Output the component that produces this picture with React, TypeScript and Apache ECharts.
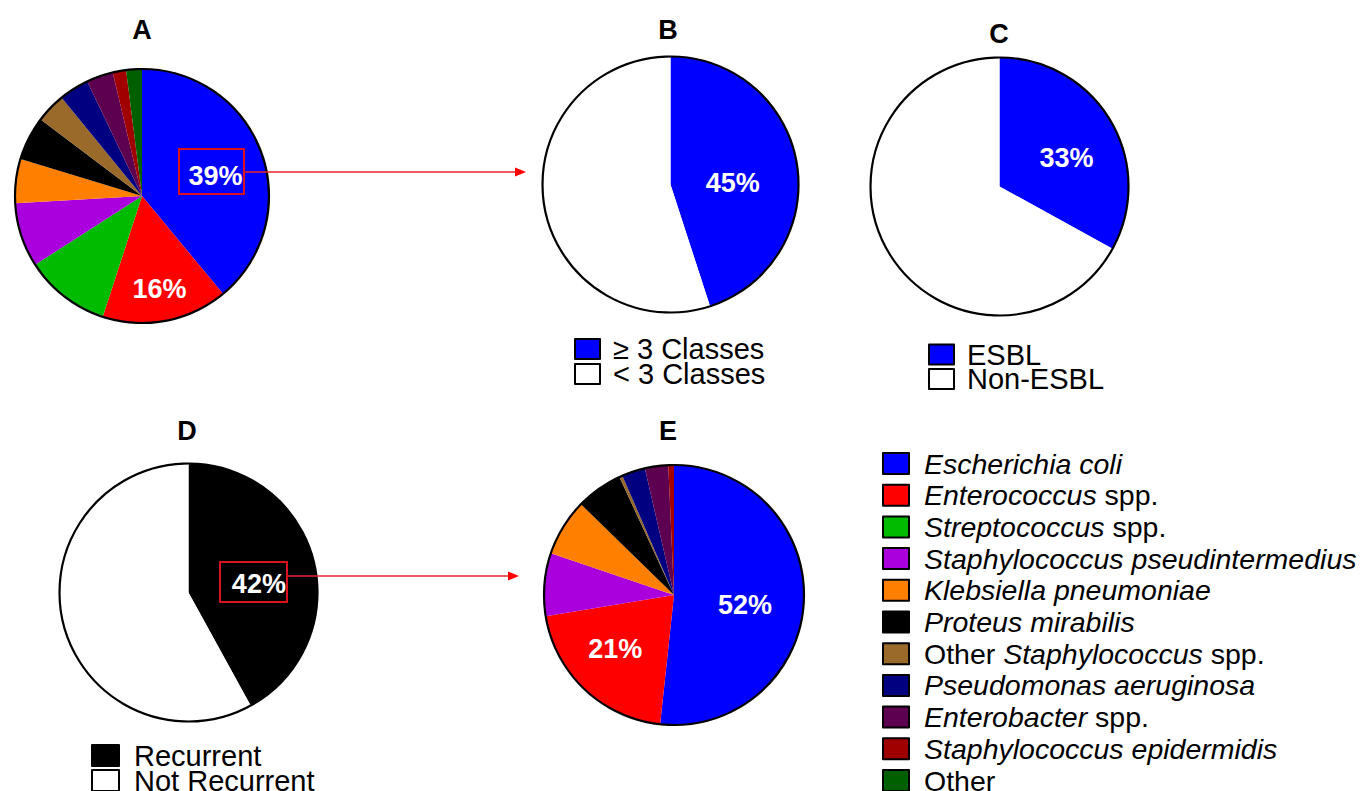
import React, { useEffect, useRef } from "react";
import * as echarts from "echarts";

// ---------- DATA ----------
const speciesNames = [
  "Escherichia coli",
  "Enterococcus spp.",
  "Streptococcus spp.",
  "Staphylococcus pseudintermedius",
  "Klebsiella pneumoniae",
  "Proteus mirabilis",
  "Other Staphylococcus spp.",
  "Pseudomonas aeruginosa",
  "Enterobacter spp.",
  "Staphylococcus epidermidis",
  "Other",
];
const speciesLegendLabels = [
  "{i|Escherichia coli}",
  "{i|Enterococcus}{n| spp.}",
  "{i|Streptococcus}{n| spp.}",
  "{i|Staphylococcus pseudintermedius}",
  "{i|Klebsiella pneumoniae}",
  "{i|Proteus mirabilis}",
  "{n|Other }{i|Staphylococcus}{n| spp.}",
  "{i|Pseudomonas aeruginosa}",
  "{i|Enterobacter}{n| spp.}",
  "{i|Staphylococcus epidermidis}",
  "{n|Other}",
];
const speciesColors = [
  "#0000ff", "#ff0000", "#00bb00", "#aa00dd", "#ff8000", "#000000",
  "#9a6a2a", "#000080", "#5e0050", "#a00000", "#006000",
];
// Panel A: all isolates (%)
const allIsolatesPct = [39, 16, 10.9, 8.2, 5.6, 5.6, 3.8, 3.8, 3.4, 1.7, 2.0];
// Panel E: recurrent isolates (%)
const recurrentIsolatesPct = [51.7, 20.7, 0, 7.8, 7.1, 5.8, 0.4, 2.9, 2.9, 0.7, 0];

const mdrNames = ["≥ 3 Classes", "< 3 Classes"];
const mdrPct = [45, 55];
const mdrColors = ["#0000ff", "#ffffff"];

const esblNames = ["ESBL", "Non-ESBL"];
const esblPct = [33, 67];
const esblColors = ["#0000ff", "#ffffff"];

const recurNames = ["Recurrent", "Not Recurrent"];
const recurPct = [42, 58];
const recurColors = ["#000000", "#ffffff"];

const panelTitles = ["A", "B", "C", "D", "E"];

// ---------- LAYOUT (styles, not data) ----------
const FONT = "Arial, 'Liberation Sans', Helvetica, sans-serif";
const pies = {
  A: { c: [142, 196], r: 127 },
  B: { c: [670.5, 184.5], r: 128 },
  C: { c: [999.5, 186.5], r: 129 },
  D: { c: [188.5, 592.5], r: 129 },
  E: { c: [674, 595], r: 130 },
};
const titlePos: Record<string, number[]> = {
  A: [142, 30], B: [668, 30], C: [999, 34], D: [187, 431], E: [668, 431],
};

function buildData(
  names: string[],
  values: number[],
  colors: string[],
  labelOffsets: Record<number, number[]>
) {
  return names
    .map((n, i) => ({
      name: n,
      value: values[i],
      itemStyle: { color: colors[i] },
      label: labelOffsets[i]
        ? { show: true, offset: labelOffsets[i] }
        : { show: false },
    }))
    .filter((d) => d.value > 0);
}

function pieSeries(key: keyof typeof pies, data: any[]) {
  const p = pies[key];
  return {
    type: "pie",
    center: p.c,
    radius: [0, p.r],
    startAngle: 90,
    clockwise: true,
    avoidLabelOverlap: false,
    silent: true,
    emphasis: { disabled: true },
    itemStyle: { borderWidth: 0 },
    labelLine: { show: false },
    label: {
      show: false,
      position: "inside",
      formatter: (prm: any) => Math.round(prm.percent) + "%",
      color: "#ffffff",
      fontSize: 27,
      fontWeight: "bold",
      fontFamily: FONT,
    },
    data,
  };
}

export default function App() {
  const ref = useRef<HTMLDivElement>(null);
  useEffect(() => {
    if (!ref.current) return;
    const chart = echarts.init(ref.current, undefined, { renderer: "svg" });

    const legendText = (fs: number, padLeft: number) => ({
      fontSize: fs,
      fontFamily: FONT,
      color: "#000",
      padding: [0, 0, 0, padLeft],
      rich: {
        i: { fontStyle: "italic", fontSize: fs, fontFamily: FONT, color: "#000" },
        n: { fontStyle: "normal", fontSize: fs, fontFamily: FONT, color: "#000" },
      },
    });
    const legendBase = {
      orient: "vertical",
      icon: "rect",
      selectedMode: false,
      padding: 0,
      height: 400,
      itemStyle: { borderColor: "#000", borderWidth: 2 },
    };
    const plain = (name: string) => `{n|${name}}`;

    const graphic: any[] = [];
    // circle outlines
    Object.values(pies).forEach((p) => {
      graphic.push({
        type: "circle",
        shape: { cx: p.c[0], cy: p.c[1], r: p.r },
        style: { fill: "none", stroke: "#000", lineWidth: 2.2 },
        z: 100,
        silent: true,
      });
    });
    // titles
    panelTitles.forEach((t) => {
      graphic.push({
        type: "text",
        x: titlePos[t][0],
        y: titlePos[t][1],
        z: 100,
        style: {
          text: t,
          align: "center",
          verticalAlign: "middle",
          font: `bold 27px ${FONT}`,
          fill: "#000",
        },
      });
    });
    // highlight boxes and arrows
    graphic.push(
      { type: "rect", shape: { x: 179, y: 149, width: 65, height: 45 }, style: { fill: "none", stroke: "#d8121e", lineWidth: 2 }, z: 100 },
      { type: "rect", shape: { x: 220, y: 562, width: 67, height: 40 }, style: { fill: "none", stroke: "#d8121e", lineWidth: 2 }, z: 100 },
      { type: "line", shape: { x1: 245, y1: 172, x2: 516, y2: 172 }, style: { stroke: "#e8262c", lineWidth: 1.3 }, z: 100 },
      { type: "polygon", shape: { points: [[515, 167.5], [526, 172], [515, 176.5]] }, style: { fill: "#ff0000" }, z: 100 },
      { type: "line", shape: { x1: 288, y1: 576, x2: 509, y2: 576 }, style: { stroke: "#e8262c", lineWidth: 1.3 }, z: 100 },
      { type: "polygon", shape: { points: [[508, 571.5], [519, 576], [508, 580.5]] }, style: { fill: "#ff0000" }, z: 100 }
    );

    chart.setOption({
      animation: false,
      backgroundColor: "#ffffff",
      legend: [
        {
          ...legendBase,
          data: speciesNames,
          left: 882,
          top: 449,
          itemWidth: 26,
          itemHeight: 21,
          itemGap: 2.7,
          formatter: (name: string) => speciesLegendLabels[speciesNames.indexOf(name)],
          textStyle: legendText(28.5, 10),
        },
        {
          ...legendBase,
          data: mdrNames,
          left: 574,
          top: 334.5,
          itemWidth: 25,
          itemHeight: 20,
          itemGap: -4,
          formatter: plain,
          textStyle: legendText(29, 8),
        },
        {
          ...legendBase,
          data: esblNames,
          left: 928,
          top: 340,
          itemWidth: 25,
          itemHeight: 20,
          itemGap: -4.5,
          formatter: plain,
          textStyle: legendText(29, 8),
        },
        {
          ...legendBase,
          data: recurNames,
          left: 91,
          top: 741,
          itemWidth: 27,
          itemHeight: 21,
          itemGap: -4,
          formatter: plain,
          textStyle: legendText(29, 10),
        },
      ],
      series: [
        pieSeries("A", buildData(speciesNames, allIsolatesPct, speciesColors, { 0: [11, 3], 1: [5, 28] })),
        pieSeries("B", buildData(mdrNames, mdrPct, mdrColors, { 0: [-4, 9] })),
        pieSeries("C", buildData(esblNames, esblPct, esblColors, { 0: [9, 6] })),
        pieSeries("D", buildData(recurNames, recurPct, recurColors, { 0: [5, 8] })),
        pieSeries("E", buildData(speciesNames, recurrentIsolatesPct, speciesColors, { 0: [3, 6], 1: [-12, 5] })),
      ],
      graphic,
    });
    return () => chart.dispose();
  }, []);
  return (
    <div
      ref={ref}
      style={{ position: "absolute", left: 0, top: 0, width: 1372, height: 791, background: "#fff" }}
    />
  );
}
